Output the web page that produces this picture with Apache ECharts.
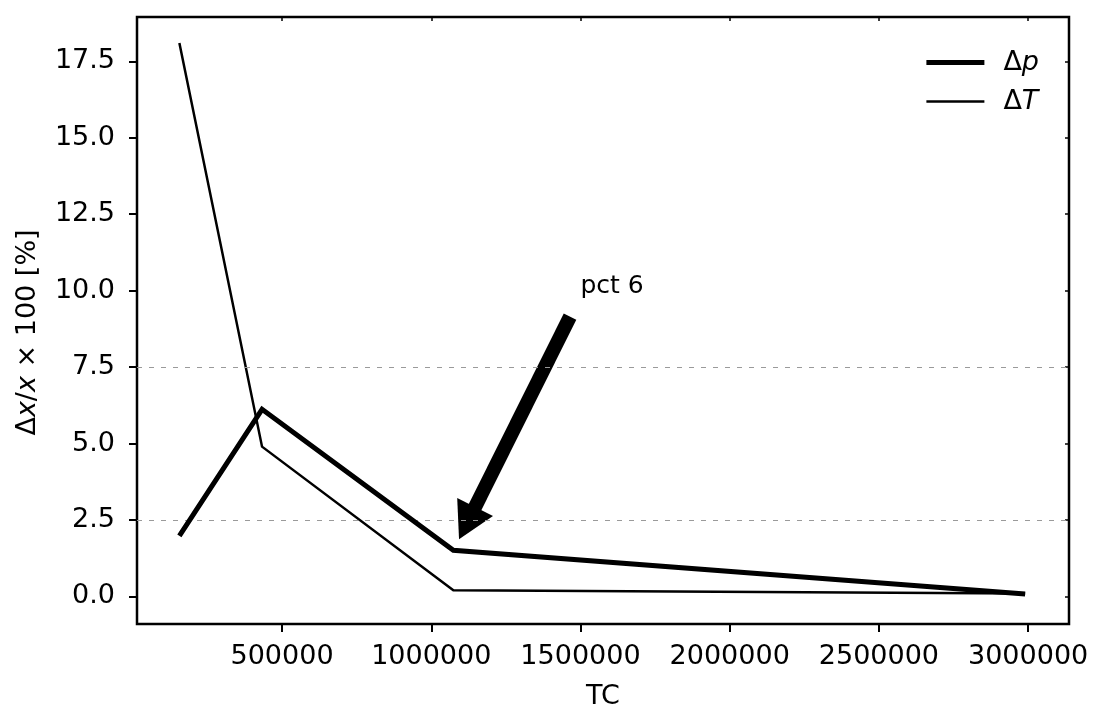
<!DOCTYPE html>
<html>
<head>
<meta charset="utf-8">
<script src="https://cdn.jsdelivr.net/npm/echarts@6/dist/echarts.min.js"></script>
<style>
html,body{margin:0;padding:0;background:#fff;}
#chart{width:1094px;height:706px;}
</style>
</head>
<body>
<div id="chart"></div>
<script>
// ---- data ----
const tcValues = [156000, 433000, 1074000, 2990000];
const deltaP = [1.98, 6.12, 1.51, 0.08];
const deltaT = [18.1, 4.9, 0.2, 0.1];
const seriesNames = ['Δp', 'ΔT'];
const xTicks = [500000, 1000000, 1500000, 2000000, 2500000, 3000000];
const yTicks = [0, 2.5, 5, 7.5, 10, 12.5, 15, 17.5];
const gridValues = [2.5, 7.5];
const xRange = [14000, 3137000];
const yRange = [-0.9, 18.95];
const annotationText = 'pct 6';
const annotationTextAt = [1500000, 10];
const arrowFrom = [1465000, 9.15];
const arrowTo = [1120000, 2.4];
const xName = 'TC';
const yName = 'Δ{i|x}/{i|x} × 100 [%]';

const FONT = 'DejaVu Sans';
const chart = echarts.init(document.getElementById('chart'));

const pairs = (ys) => tcValues.map((x, i) => [x, ys[i]]);

const option = {
  animation: false,
  backgroundColor: '#fff',
  grid: {
    left: 137, right: 25, top: 17, bottom: 82,
    outerBoundsMode: 'none',
    containLabel: false,
    show: true, borderColor: '#000', borderWidth: 2.5, backgroundColor: 'transparent'
  },
  legend: {
    orient: 'vertical',
    right: 50,
    top: 44,
    itemWidth: 58,
    itemHeight: 14,
    itemGap: 12,
    data: [
      { name: seriesNames[0], itemStyle: { color: 'transparent', borderWidth: 0 }, lineStyle: { width: 5, color: '#000' } },
      { name: seriesNames[1], itemStyle: { color: 'transparent', borderWidth: 0 }, lineStyle: { width: 2.5, color: '#000' } }
    ],
    formatter: (name) => name.replace(/^Δ(.)$/, 'Δ{i|$1}'),
    textStyle: {
      fontFamily: FONT, fontSize: 27, color: '#000', padding: [0, 0, 0, 14],
      rich: { i: { fontFamily: FONT, fontSize: 27, fontStyle: 'italic', color: '#000' } }
    }
  },
  xAxis: [{
    type: 'value', min: xRange[0], max: xRange[1],
    axisLine: { show: false, onZero: false },
    axisTick: { show: true, customValues: xTicks, length: 8, lineStyle: { color: '#000', width: 2 } },
    axisLabel: { customValues: xTicks, formatter: (v) => String(v), fontFamily: FONT, fontSize: 27, color: '#000', margin: 19 },
    splitLine: { show: false },
    name: xName, nameLocation: 'middle', nameGap: 59,
    nameTextStyle: { fontFamily: FONT, fontSize: 27, color: '#000' }
  }, {
    type: 'value', position: 'top', min: xRange[0], max: xRange[1],
    axisLine: { show: false, onZero: false },
    axisTick: { show: true, inside: true, customValues: xTicks, length: 4, lineStyle: { color: '#000', width: 1.5 } },
    axisLabel: { show: false },
    splitLine: { show: false }
  }],
  yAxis: [{
    type: 'value', min: yRange[0], max: yRange[1],
    axisLine: { show: false, onZero: false },
    axisTick: { show: true, customValues: yTicks, length: 8, lineStyle: { color: '#000', width: 2 } },
    axisLabel: { customValues: yTicks, formatter: (v) => v.toFixed(1), fontFamily: FONT, fontSize: 27, color: '#000', margin: 22 },
    splitLine: { show: false },
    name: yName, nameLocation: 'middle', nameGap: 96,
    nameTextStyle: {
      fontFamily: FONT, fontSize: 27, color: '#000', padding: [0, 24, 0, 0],
      rich: { i: { fontFamily: FONT, fontSize: 27, fontStyle: 'italic', color: '#000' } }
    }
  }, {
    type: 'value', position: 'right', min: yRange[0], max: yRange[1],
    axisLine: { show: false, onZero: false },
    axisTick: { show: true, inside: true, customValues: yTicks, length: 4, lineStyle: { color: '#000', width: 1.5 } },
    axisLabel: { show: false },
    splitLine: { show: false }
  }],
  series: [{
    name: seriesNames[0],
    type: 'line',
    data: pairs(deltaP),
    symbol: 'none',
    lineStyle: { color: '#000', width: 5, join: 'miter' },
    itemStyle: { color: '#000' },
    z: 5,
    markLine: {
      silent: true,
      symbol: ['none', 'triangle'],
      symbolSize: [40, 36],
      label: { show: false },
      lineStyle: { color: '#000', width: 14, type: 'solid', cap: 'butt' },
      emphasis: { disabled: true },
      data: [[{ coord: arrowFrom }, { coord: arrowTo }]]
    },
    markPoint: {
      silent: true,
      symbol: 'circle',
      symbolSize: 0,
      data: [{ coord: annotationTextAt, value: annotationText }],
      label: {
        show: true, formatter: annotationText, position: 'right', distance: 0,
        align: 'left', verticalAlign: 'bottom', offset: [0, 8],
        fontFamily: FONT, fontSize: 25, color: '#000'
      }
    }
  }, {
    name: seriesNames[1],
    type: 'line',
    data: pairs(deltaT),
    symbol: 'none',
    lineStyle: { color: '#000', width: 2.5, join: 'miter' },
    itemStyle: { color: '#000' },
    z: 4,
    markLine: {
      silent: true,
      symbol: 'none',
      label: { show: false },
      lineStyle: { color: '#9a9a9a', width: 1.2, type: [5, 7] },
      emphasis: { disabled: true },
      data: gridValues.map((v) => ({ yAxis: v }))
    }
  }]
};
chart.setOption(option);
</script>
</body>
</html>
